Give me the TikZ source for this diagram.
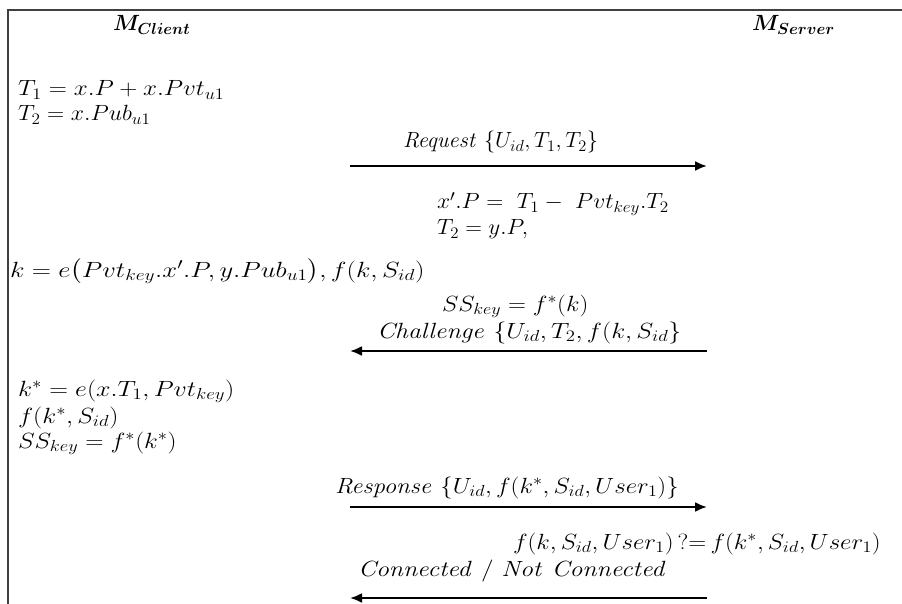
\RequirePackage{fix-cm}
\documentclass[tikz,border=0pt]{standalone}
\usepackage{amsmath}
\usepackage{bm}
\usetikzlibrary{arrows.meta}
\DeclareMathSizes{22}{22}{16}{12}
\newcommand\sxm[2]{\scalebox{#1}[1]{$#2$}}
\tikzset{
  txt/.style={anchor=base west, inner sep=0pt, outer sep=0pt, font=\fontsize{22}{26}\selectfont},
  msg/.style={line width=2.2pt, -{Latex[length=12pt,width=10pt]}},
  frame/.style={line width=1.3pt, draw=black!75}
}
\begin{document}
\begin{tikzpicture}[x=1pt,y=-1pt]
\useasboundingbox (0,0) rectangle (902,604);
\draw[frame] (8,604) -- (8,10) -- (902,10);

\node[txt] (mc) at (113,31) {\sxm{0.98}{\bm{M}_{\bm{Client}}}};
\node[txt] (ms) at (752,31) {\sxm{1.0}{\bm{M}_{\bm{Server}}}};

\node[txt] (t1) at (18,96) {\sxm{1.14}{T_1 = x.P + x.Pvt_{u1}}};
\node[txt] (t2) at (18,121) {\sxm{1.08}{T_2 = x.Pub_{u1}}};

\node[txt] (req) at (403,148) {\sxm{1.02}{\mathit{Request}\ \{U_{id}, T_1, T_2\}}};
\coordinate (r1a) at (350,166);
\coordinate (r1b) at (707,166);
\draw[msg] (r1a) -- (r1b);

\node[txt] (xp) at (437,209) {\sxm{1.07}{x'.P =\ T_1 -\ Pvt_{\smash[b]{key}}.T_2}};
\node[txt] (ty) at (437,235) {\sxm{1.05}{T_2 = y.P,}};
\node[txt] (kk) at (10,277) {\sxm{1.21}{k = e\big(Pvt_{key}.x'.P, y.Pub_{u1}\big), f(k, S_{id})}};
\node[txt] (ssk) at (442,311) {\sxm{1.13}{SS_{key} = f^*(k)}};

\node[txt] (chal) at (377,338) {\sxm{1.17}{\mathit{Challenge}\ \{U_{id}, T_2, f(k, S_{id}\}}};
\coordinate (r2a) at (707,351);
\coordinate (r2b) at (350,351);
\draw[msg] (r2a) -- (r2b);

\node[txt] (ks) at (18,396) {\sxm{1.18}{k^* = e(x.T_1, Pvt_{\smash[b]{key}})}};
\node[txt] (fks) at (18,423) {\sxm{1.17}{f(k^*, S_{id})}};
\node[txt] (ssks) at (18,448) {\sxm{1.15}{SS_{key} = f^*(k^*)}};

\node[txt] (resp) at (335,493) {\sxm{1.13}{\mathit{Response}\ \{U_{id}, f(k^*, S_{id}, User_1)\}}};
\coordinate (r3a) at (350,507);
\coordinate (r3b) at (707,507);
\draw[msg] (r3a) -- (r3b);

\node[txt] (cmp) at (513,549) {\sxm{1.13}{f(k, S_{id}, User_1)\, ? {=}\, f(k^*, S_{id}, User_1)}};
\node[txt] (conn) at (358,576) {\sxm{1.17}{\mathit{Connected\ /\ Not\ Connected}}};
\coordinate (r4a) at (707,598);
\coordinate (r4b) at (350,598);
\draw[msg] (r4a) -- (r4b);
\end{tikzpicture}
\end{document}
